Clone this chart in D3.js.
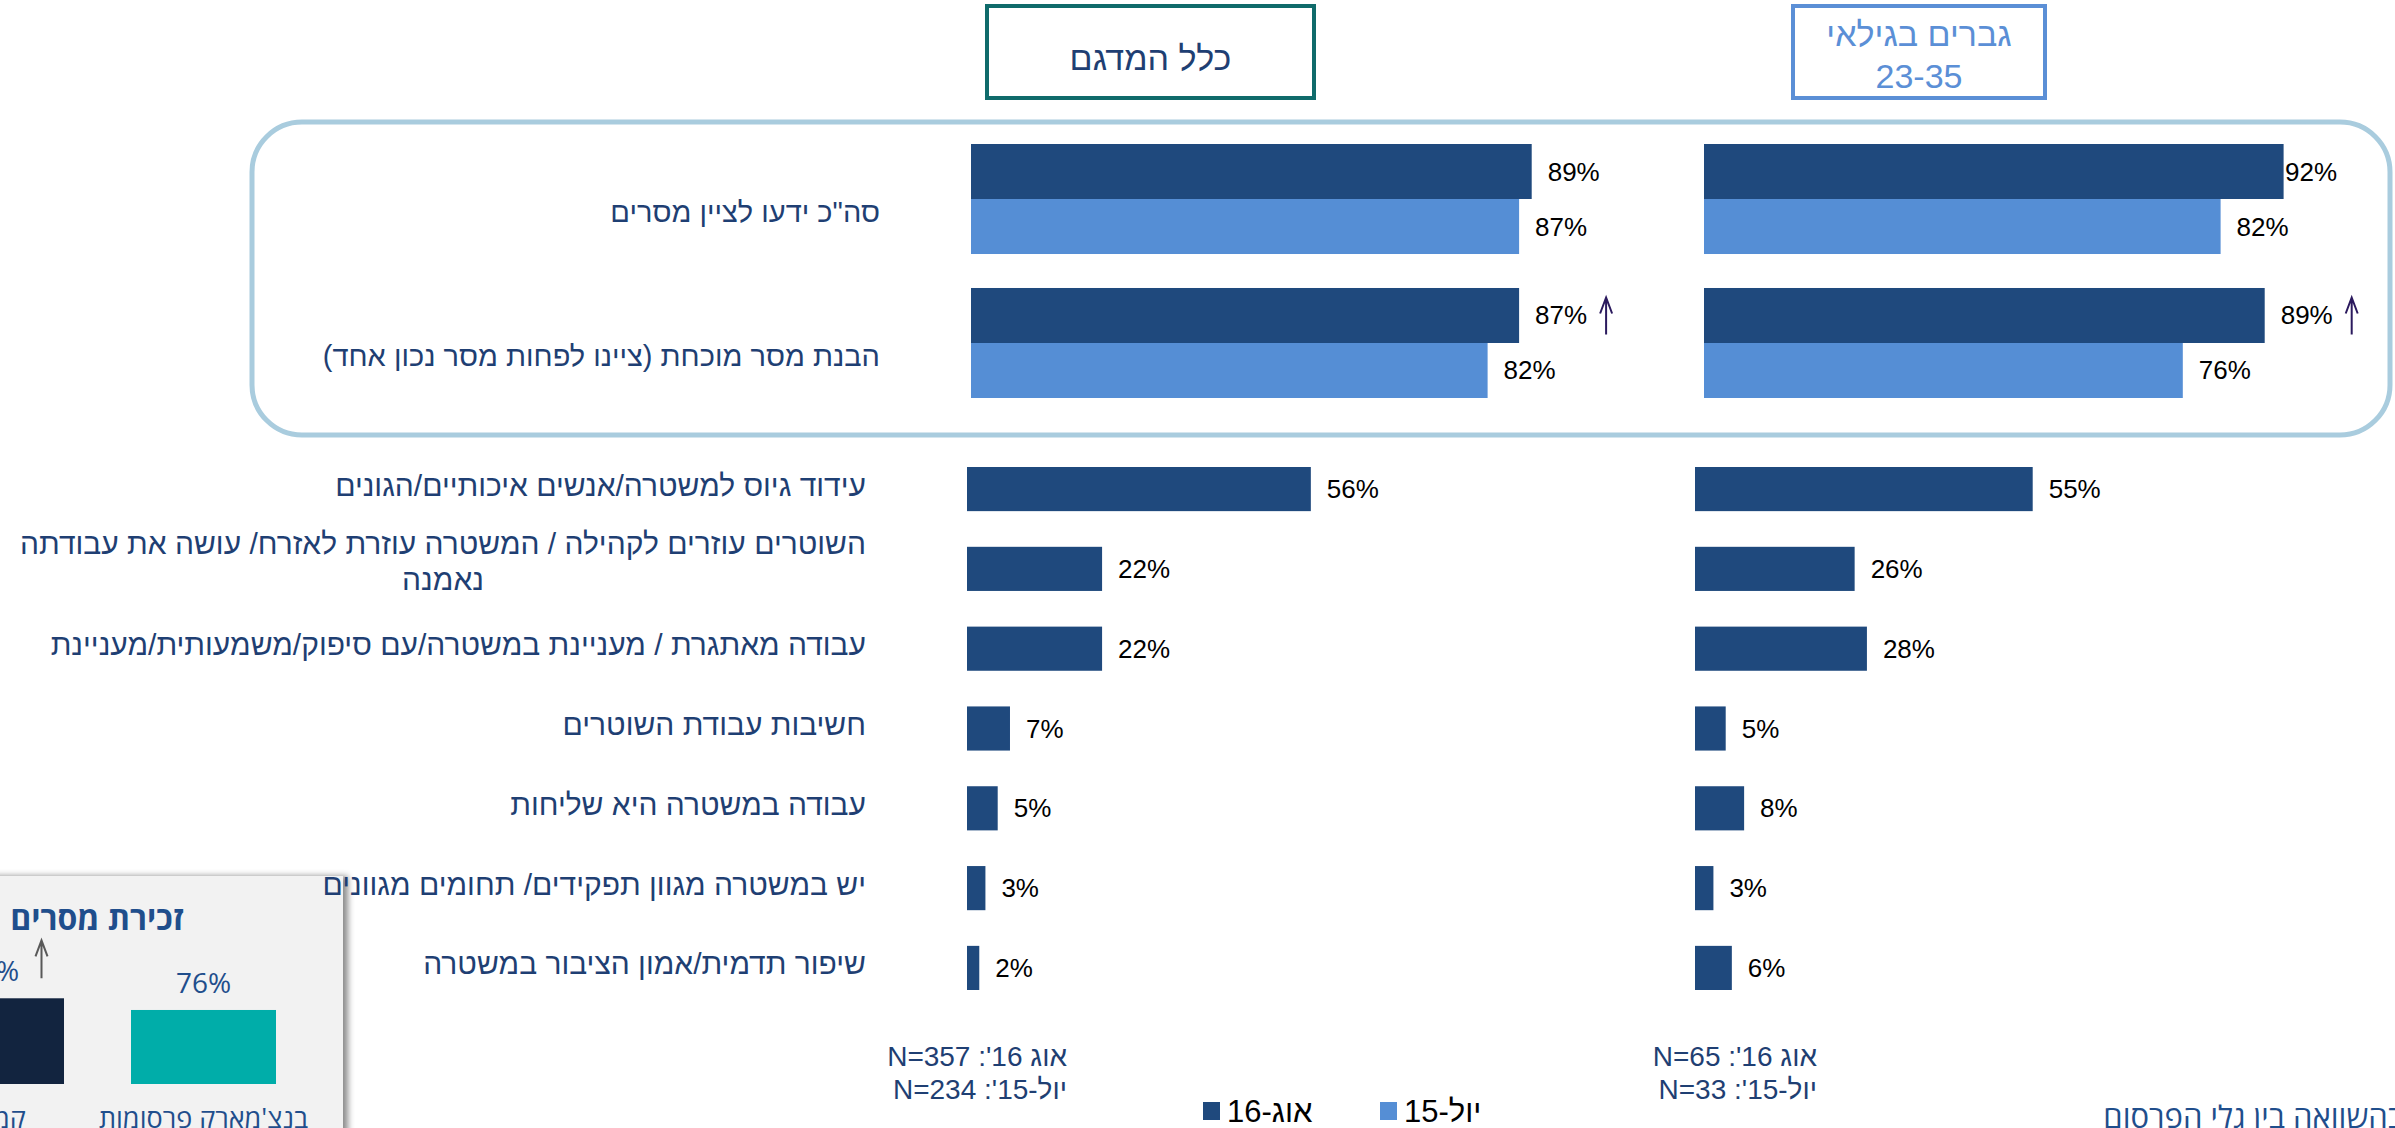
<!DOCTYPE html>
<html lang="he">
<head>
<meta charset="utf-8">
<script src="https://cdn.jsdelivr.net/npm/d3@7"></script>
<style>
  html, body { margin: 0; padding: 0; background: #fff; overflow: hidden; }
  svg { display: block; }
  text { font-family: "Liberation Sans", Arial, sans-serif; }
</style>
</head>
<body>
<div id="chart"></div>
<script>
// ---- data ----
const panelTitles = ['כלל המדגם', 'גברים בגילאי\n23-35'];
const seriesNames = ['אוג-16', 'יול-15'];

const topCategories = ['סה"כ ידעו לציין מסרים', 'הבנת מסר מוכחת (ציינו לפחות מסר נכון אחד)'];
const totalAug16 = [89, 87];
const totalJul15 = [87, 82];
const menAug16 = [92, 89];
const menJul15 = [82, 76];
const risingFlags = [false, true];   // arrow up next to the aug-16 value

const lowerCategories = [
  'עידוד גיוס למשטרה/אנשים איכותיים/הגונים',
  'השוטרים עוזרים לקהילה / המשטרה עוזרת לאזרח/ עושה את עבודתה\nנאמנה',
  'עבודה מאתגרת / מעניינת במשטרה/עם סיפוק/משמעותית/מעניינת',
  'חשיבות עבודת השוטרים',
  'עבודה במשטרה היא שליחות',
  'יש במשטרה מגוון תפקידים/ תחומים מגוונים',
  'שיפור תדמית/אמון הציבור במשטרה'
];
const totalLower = [56, 22, 22, 7, 5, 3, 2];
const menLower = [55, 26, 28, 5, 8, 3, 6];

const totalSample = ["אוג 16': N=357", "יול-15': N=234"];
const menSample = ["אוג 16': N=65", "יול-15': N=33"];

const recallCategories = ['קמפיין', "בנצ'מארק פרסומות"];
const recallValues = [88, 76];

// ---- colours ----
const darkBlue = '#1F497D';
const lightBlue = '#558ED5';
const navyText = '#1F3F73';
const arrowColor = '#2B1A5E';

const W = 2395, H = 1128;

const svg = d3.select('#chart').append('svg')
    .attr('width', W)
    .attr('height', H);

const defs = svg.append('defs');
const shadow = defs.append('filter').attr('id', 'panelShadow')
    .attr('x', '-10%').attr('y', '-10%').attr('width', '130%').attr('height', '130%');
shadow.append('feDropShadow')
    .attr('dx', 5).attr('dy', 0).attr('stdDeviation', 3)
    .attr('flood-color', '#000').attr('flood-opacity', 0.45);

// up arrow helper (thin stem with an open V head)
function upArrow(g, x, yTop, len, color) {
  g.append('path')
      .attr('d', `M${x},${yTop + len}V${yTop}M${x - 6},${yTop + 16}L${x},${yTop}L${x + 6},${yTop + 16}`)
      .attr('fill', 'none')
      .attr('stroke', color)
      .attr('stroke-width', 2);
}

// ---- inset panel from the neighbouring slide element (drawn first, labels overlap it) ----
const inset = svg.append('g');
inset.append('rect')
    .attr('x', -20).attr('y', 876)
    .attr('width', 363).attr('height', 280)
    .attr('fill', '#F2F2F2')
    .attr('filter', 'url(#panelShadow)');

inset.append('text')
    .attr('x', 97).attr('y', 917)
    .attr('text-anchor', 'middle')
    .attr('dominant-baseline', 'central')
    .attr('direction', 'rtl')
    .style('font-family', '"Open Sans", "Noto Sans", sans-serif')
    .style('font-weight', 700)
    .style('font-size', '32px')
    .attr('fill', '#1F4E8C')
    .text('זכירת מסרים');

const xRecall = d3.scaleBand()
    .domain(recallCategories)
    .range([-81, 276])
    .paddingInner(0.316);
const yRecall = d3.scaleLinear()
    .domain([0, 100])
    .range([1084, 986.6]);
const recallColor = d3.scaleOrdinal().domain(recallCategories).range(['#12243F', '#00ADA9']);

inset.selectAll('rect.recall')
    .data(recallCategories)
    .join('rect')
    .attr('class', 'recall')
    .attr('x', d => xRecall(d))
    .attr('y', (d, i) => yRecall(recallValues[i]))
    .attr('width', xRecall.bandwidth())
    .attr('height', (d, i) => yRecall(0) - yRecall(recallValues[i]))
    .attr('fill', d => recallColor(d));

inset.selectAll('text.recall-val')
    .data(recallCategories)
    .join('text')
    .attr('class', 'recall-val')
    .attr('x', d => xRecall(d) + xRecall.bandwidth() / 2)
    .attr('y', (d, i) => yRecall(recallValues[i]) - 28)
    .attr('text-anchor', 'middle')
    .attr('dominant-baseline', 'central')
    .style('font-family', '"Open Sans", "Noto Sans", sans-serif')
    .style('font-size', '28px')
    .attr('fill', '#1F4E8C')
    .text((d, i) => recallValues[i] + '%');

upArrow(inset, xRecall(recallCategories[0]) + xRecall.bandwidth() / 2 + 50, yRecall(recallValues[0]) - 58, 38, '#595959');

inset.selectAll('text.recall-cat')
    .data(recallCategories)
    .join('text')
    .attr('class', 'recall-cat')
    .attr('x', d => xRecall(d) + xRecall.bandwidth() / 2)
    .attr('y', 1117)
    .attr('text-anchor', 'middle')
    .attr('dominant-baseline', 'central')
    .attr('direction', 'rtl')
    .style('font-family', '"Open Sans", "Noto Sans", sans-serif')
    .style('font-size', '27px')
    .attr('fill', '#1F4E8C')
    .text(d => d);

// ---- header boxes ----
const headers = [
  {x: 987, w: 327, stroke: '#0F6B6B', color: navyText},
  {x: 1793, w: 252, stroke: '#5B8FD6', color: '#5B8FD6'}
];
headers.forEach((h, i) => {
  svg.append('rect')
      .attr('x', h.x).attr('y', 6)
      .attr('width', h.w).attr('height', 92)
      .attr('fill', '#fff')
      .attr('stroke', h.stroke)
      .attr('stroke-width', 4);
  const lines = panelTitles[i].split('\n');
  const t = svg.append('text')
      .attr('text-anchor', 'middle')
      .attr('direction', 'rtl')
      .style('font-size', '34px')
      .attr('fill', h.color);
  lines.forEach((line, j) => {
    t.append('tspan')
        .attr('x', h.x + h.w / 2)
        .attr('y', lines.length === 1 ? 58 : 34 + j * 42)
        .attr('dominant-baseline', 'central')
        .text(line);
  });
});

// ---- rounded frame round the two summary rows ----
svg.append('rect')
    .attr('x', 252).attr('y', 122)
    .attr('width', 2138).attr('height', 313)
    .attr('rx', 50).attr('ry', 50)
    .attr('fill', 'none')
    .attr('stroke', '#A9CCDE')
    .attr('stroke-width', 5);

// ---- shared scales ----
const xTop = d3.scaleLinear().domain([0, 100]).range([0, 630]);
const xLower = d3.scaleLinear().domain([0, 100]).range([0, 614]);

const yTop = d3.scaleBand()
    .domain(topCategories)
    .range([144, 398])
    .paddingInner(0.236);
const ySeries = d3.scaleBand()
    .domain(seriesNames)
    .range([0, yTop.bandwidth()]);
const seriesColor = d3.scaleOrdinal().domain(seriesNames).range([darkBlue, lightBlue]);

const yLower = d3.scaleBand()
    .domain(lowerCategories)
    .range([467, 990])
    .paddingInner(0.447);

// ---- category labels ----
svg.selectAll('text.top-cat')
    .data(topCategories)
    .join('text')
    .attr('class', 'top-cat')
    .attr('x', 880)
    .attr('y', d => yTop(d) + yTop.bandwidth() / 2 + 13)
    .attr('direction', 'rtl')
    .attr('text-anchor', 'start')
    .attr('dominant-baseline', 'central')
    .style('font-size', '29px')
    .attr('fill', navyText)
    .text(d => d);

const lowerLabels = svg.selectAll('text.low-cat')
    .data(lowerCategories)
    .join('text')
    .attr('class', 'low-cat')
    .attr('direction', 'rtl')
    .style('font-size', '30px')
    .attr('fill', navyText);

lowerLabels.each(function(d) {
  const t = d3.select(this);
  const lines = d.split('\n');
  const cy = yLower(d) + yLower.bandwidth() / 2 - 4;
  const first = t.append('tspan')
      .attr('x', 866)
      .attr('y', lines.length === 1 ? cy : cy - 21)
      .attr('text-anchor', 'start')
      .attr('dominant-baseline', 'central')
      .text(lines[0]);
  if (lines.length > 1) {
    const w = first.node().getComputedTextLength();
    t.append('tspan')
        .attr('x', 866 - w / 2)
        .attr('y', cy + 15)
        .attr('text-anchor', 'middle')
        .attr('dominant-baseline', 'central')
        .text(lines[1]);
  }
});

// ---- bar panels ----
const panels = [
  {topOrigin: 971, lowerOrigin: 967, aug: totalAug16, jul: totalJul15, lower: totalLower,
   sample: totalSample, sampleRight: 1067, labelMax: Infinity},
  {topOrigin: 1704, lowerOrigin: 1695, aug: menAug16, jul: menJul15, lower: menLower,
   sample: menSample, sampleRight: 1817, labelMax: 2285}
];

panels.forEach(p => {
  const g = svg.append('g');

  // paired bars inside the frame
  const pairs = [];
  topCategories.forEach((c, i) => {
    pairs.push({cat: c, series: seriesNames[0], value: p.aug[i], rising: risingFlags[i]});
    pairs.push({cat: c, series: seriesNames[1], value: p.jul[i], rising: false});
  });

  g.selectAll('rect.pair')
      .data(pairs)
      .join('rect')
      .attr('class', 'pair')
      .attr('x', p.topOrigin)
      .attr('y', d => yTop(d.cat) + ySeries(d.series))
      .attr('width', d => xTop(d.value))
      .attr('height', ySeries.bandwidth())
      .attr('fill', d => seriesColor(d.series));

  g.selectAll('text.pair-val')
      .data(pairs)
      .join('text')
      .attr('class', 'pair-val')
      .attr('x', d => Math.min(p.topOrigin + xTop(d.value) + 16, p.labelMax))
      .attr('y', d => yTop(d.cat) + ySeries(d.series) + ySeries.bandwidth() / 2)
      .attr('dominant-baseline', 'central')
      .style('font-size', '26px')
      .attr('fill', '#000')
      .text(d => d.value + '%');

  pairs.filter(d => d.rising).forEach(d => {
    const cy = yTop(d.cat) + ySeries(d.series) + ySeries.bandwidth() / 2;
    upArrow(g, p.topOrigin + xTop(d.value) + 87, cy - 18, 37, arrowColor);
  });

  // single-series bars below
  g.selectAll('rect.low')
      .data(lowerCategories)
      .join('rect')
      .attr('class', 'low')
      .attr('x', p.lowerOrigin)
      .attr('y', d => yLower(d))
      .attr('width', (d, i) => xLower(p.lower[i]))
      .attr('height', yLower.bandwidth())
      .attr('fill', darkBlue);

  g.selectAll('text.low-val')
      .data(lowerCategories)
      .join('text')
      .attr('class', 'low-val')
      .attr('x', (d, i) => p.lowerOrigin + xLower(p.lower[i]) + 16)
      .attr('y', d => yLower(d) + yLower.bandwidth() / 2)
      .attr('dominant-baseline', 'central')
      .style('font-size', '26px')
      .attr('fill', '#000')
      .text((d, i) => p.lower[i] + '%');

  // sample sizes
  g.selectAll('text.sample')
      .data(p.sample)
      .join('text')
      .attr('class', 'sample')
      .attr('x', p.sampleRight)
      .attr('y', (d, i) => 1056 + i * 33)
      .attr('direction', 'rtl')
      .attr('text-anchor', 'start')
      .attr('dominant-baseline', 'central')
      .style('font-size', '28px')
      .attr('fill', navyText)
      .text(d => d);
});

// ---- legend ----
const legendX = [1203, 1380];
const legend = svg.append('g');
seriesNames.forEach((s, i) => {
  legend.append('rect')
      .attr('x', legendX[i]).attr('y', 1102)
      .attr('width', 17).attr('height', 18)
      .attr('fill', seriesColor(s));
  legend.append('text')
      .attr('x', legendX[i] + 24)
      .attr('y', 1111)
      .attr('direction', 'rtl')
      .attr('text-anchor', 'end')
      .attr('dominant-baseline', 'central')
      .style('font-size', '31px')
      .attr('fill', '#000')
      .text(s);
});

// ---- cut-off footnote at the bottom right ----
svg.append('text')
    .attr('x', 2404).attr('y', 1116)
    .attr('direction', 'rtl')
    .attr('text-anchor', 'start')
    .attr('dominant-baseline', 'central')
    .style('font-family', '"Open Sans", "Noto Sans", sans-serif')
    .style('font-size', '31px')
    .attr('fill', '#1F4E8C')
    .text('בהשוואה בין גלי הפרסום');
</script>
</body>
</html>
